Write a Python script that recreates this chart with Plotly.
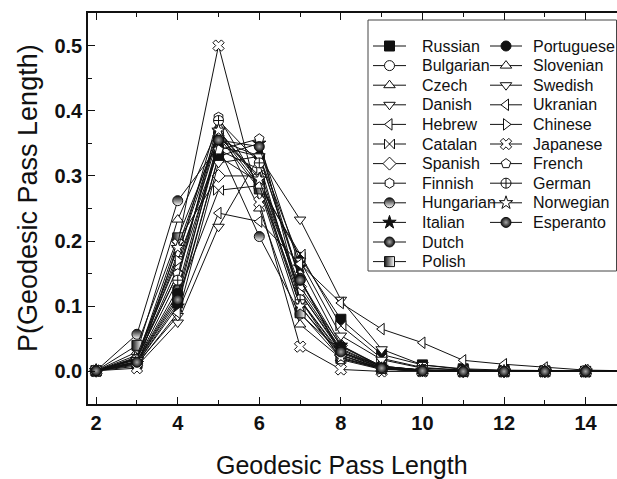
import plotly.graph_objects as go

# Geodesic path length (x) and the probability of each length per language
path_length = [2, 3, 4, 5, 6, 7, 8, 9, 10, 11, 12, 13, 14, 15]

russian    = [0.001, 0.012, 0.105, 0.330, 0.290, 0.175, 0.080, 0.026, 0.010, 0.004, 0.002, 0.001, 0.000, 0.000]
portuguese = [0.001, 0.015, 0.120, 0.345, 0.330, 0.140, 0.038, 0.008, 0.002, 0.001, 0.000, 0.000, 0.000, 0.000]
bulgarian  = [0.001, 0.020, 0.150, 0.370, 0.290, 0.125, 0.035, 0.007, 0.002, 0.001, 0.000, 0.000, 0.000, 0.000]
slovenian  = [0.001, 0.025, 0.180, 0.365, 0.285, 0.110, 0.028, 0.005, 0.001, 0.000, 0.000, 0.000, 0.000, 0.000]
czech      = [0.001, 0.030, 0.233, 0.375, 0.250, 0.072, 0.020, 0.004, 0.001, 0.000, 0.000, 0.000, 0.000, 0.000]
swedish    = [0.001, 0.012, 0.085, 0.320, 0.330, 0.170, 0.055, 0.018, 0.005, 0.002, 0.001, 0.000, 0.000, 0.000]
danish     = [0.001, 0.008, 0.075, 0.222, 0.330, 0.233, 0.110, 0.034, 0.010, 0.003, 0.001, 0.000, 0.000, 0.000]
ukranian   = [0.001, 0.010, 0.090, 0.243, 0.230, 0.165, 0.105, 0.065, 0.044, 0.017, 0.011, 0.006, 0.002, 0.001]
hebrew     = [0.001, 0.018, 0.160, 0.360, 0.300, 0.120, 0.033, 0.007, 0.002, 0.001, 0.000, 0.000, 0.000, 0.000]
chinese    = [0.001, 0.022, 0.170, 0.340, 0.310, 0.120, 0.030, 0.006, 0.001, 0.000, 0.000, 0.000, 0.000, 0.000]
catalan    = [0.001, 0.014, 0.115, 0.278, 0.285, 0.180, 0.070, 0.020, 0.006, 0.002, 0.000, 0.000, 0.000, 0.000]
japanese   = [0.001, 0.005, 0.195, 0.500, 0.260, 0.038, 0.003, 0.000, 0.000, 0.000, 0.000, 0.000, 0.000, 0.000]
spanish    = [0.001, 0.020, 0.200, 0.300, 0.300, 0.130, 0.040, 0.008, 0.002, 0.000, 0.000, 0.000, 0.000, 0.000]
french     = [0.001, 0.020, 0.150, 0.340, 0.357, 0.110, 0.018, 0.003, 0.001, 0.000, 0.000, 0.000, 0.000, 0.000]
finnish    = [0.001, 0.020, 0.175, 0.390, 0.285, 0.100, 0.025, 0.004, 0.001, 0.000, 0.000, 0.000, 0.000, 0.000]
german     = [0.001, 0.015, 0.140, 0.385, 0.320, 0.110, 0.025, 0.004, 0.001, 0.000, 0.000, 0.000, 0.000, 0.000]
hungarian  = [0.001, 0.057, 0.262, 0.345, 0.207, 0.088, 0.030, 0.008, 0.002, 0.000, 0.000, 0.000, 0.000, 0.000]
norwegian  = [0.001, 0.018, 0.190, 0.370, 0.295, 0.100, 0.022, 0.004, 0.001, 0.000, 0.000, 0.000, 0.000, 0.000]
italian    = [0.001, 0.012, 0.100, 0.330, 0.350, 0.160, 0.040, 0.006, 0.001, 0.000, 0.000, 0.000, 0.000, 0.000]
esperanto  = [0.001, 0.014, 0.110, 0.355, 0.345, 0.140, 0.030, 0.005, 0.001, 0.000, 0.000, 0.000, 0.000, 0.000]
dutch      = [0.001, 0.015, 0.127, 0.355, 0.330, 0.143, 0.025, 0.004, 0.001, 0.000, 0.000, 0.000, 0.000, 0.000]
polish     = [0.001, 0.040, 0.205, 0.360, 0.280, 0.090, 0.020, 0.004, 0.001, 0.000, 0.000, 0.000, 0.000, 0.000]

# Legend columns (names as printed in the key)
legend_left = ["Russian", "Bulgarian", "Czech", "Danish", "Hebrew", "Catalan",
               "Spanish", "Finnish", "Hungarian", "Italian", "Dutch", "Polish"]
legend_right = ["Portuguese", "Slovenian", "Swedish", "Ukranian", "Chinese",
                "Japanese", "French", "German", "Norwegian", "Esperanto"]

x_title = "Geodesic Pass Length"
y_title = "P(Geodesic Pass Length)"

series = {
    "Russian": russian, "Portuguese": portuguese, "Bulgarian": bulgarian,
    "Slovenian": slovenian, "Czech": czech, "Swedish": swedish, "Danish": danish,
    "Ukranian": ukranian, "Hebrew": hebrew, "Chinese": chinese, "Catalan": catalan,
    "Japanese": japanese, "Spanish": spanish, "French": french, "Finnish": finnish,
    "German": german, "Hungarian": hungarian, "Norwegian": norwegian,
    "Italian": italian, "Esperanto": esperanto, "Dutch": dutch, "Polish": polish,
}

BLACK = "#111111"
WHITE = "#ffffff"
FONT = "Arial, Liberation Sans, sans-serif"

# marker style per language: (symbol, fill colour, gradient)
styles = {
    "Russian":    ("square", BLACK, None),
    "Portuguese": ("circle", BLACK, None),
    "Bulgarian":  ("circle", WHITE, None),
    "Slovenian":  ("triangle-up", WHITE, None),
    "Czech":      ("triangle-up", WHITE, None),
    "Swedish":    ("triangle-down", WHITE, None),
    "Danish":     ("triangle-down", WHITE, None),
    "Ukranian":   ("triangle-left", WHITE, None),
    "Hebrew":     ("triangle-left", WHITE, None),
    "Chinese":    ("triangle-right", WHITE, None),
    "Catalan":    ("bowtie", WHITE, None),
    "Japanese":   ("x", WHITE, None),
    "Spanish":    ("diamond", WHITE, None),
    "French":     ("pentagon", WHITE, None),
    "Finnish":    ("hexagon", WHITE, None),
    "German":     ("circle-cross", WHITE, None),
    "Hungarian":  ("circle", BLACK, dict(type="vertical", color=WHITE)),
    "Norwegian":  ("star", WHITE, None),
    "Italian":    ("star", BLACK, None),
    "Esperanto":  ("circle", BLACK, dict(type="radial", color="#a8a8a8")),
    "Dutch":      ("circle", BLACK, dict(type="radial", color="#a8a8a8")),
    "Polish":     ("square", BLACK, dict(type="horizontal", color=WHITE)),
}

MARKER_SIZE = 10


def marker_for(name, opacity=None):
    sym, fill, grad = styles[name]
    m = dict(symbol=sym, size=MARKER_SIZE, color=fill,
             line=dict(color=BLACK, width=1))
    if grad is not None:
        m["gradient"] = grad
    if opacity is not None:
        m["opacity"] = opacity
    return m


fig = go.Figure()

order = legend_left + legend_right
for name in order:
    fig.add_trace(go.Scatter(
        x=path_length, y=series[name], mode="lines+markers", name=name,
        line=dict(color=BLACK, width=1), marker=marker_for(name),
        showlegend=False,
    ))

# ---- key drawn on an overlay axis measured in figure pixels ----
W, H = 617, 479
ML, MT, MB = 88, 13, 75
PW, PH = W - ML, H - MT - MB
box = dict(x0=368, x1=616.5, y0=20, y1=271)
row0, row_step = 46, 19.6
cols = [(legend_left, 373, 406, 420), (legend_right, 490, 522, 531)]

for names, xa, xb, xt in cols:
    for i, name in enumerate(names):
        yr = row0 + i * row_step
        fig.add_trace(go.Scatter(
            x=[xa, (xa + xb) / 2, xb], y=[yr, yr, yr],
            mode="lines+markers", xaxis="x2", yaxis="y2",
            line=dict(color=BLACK, width=1),
            marker=marker_for(name, opacity=[0, 1, 0]),
            showlegend=False, hoverinfo="skip",
        ))
        fig.add_annotation(
            x=xt, y=yr, xref="x2", yref="y2", text=name, showarrow=False,
            xanchor="left", yanchor="middle",
            font=dict(family=FONT, size=16, color=BLACK),
        )

fig.add_shape(type="rect", xref="x2", yref="y2", layer="below",
              line=dict(color="#444444", width=1), fillcolor=WHITE, **box)


def paper_x(px):
    return (px - ML) / PW


def paper_y(py):
    return 1 - (py - MT) / PH


# axis titles
fig.add_annotation(x=paper_x(342), y=paper_y(465), xref="paper", yref="paper",
                   text=x_title, showarrow=False, xanchor="center", yanchor="middle",
                   font=dict(family=FONT, size=25, color=BLACK))
fig.add_annotation(x=paper_x(28), y=paper_y(198), xref="paper", yref="paper",
                   text=y_title, showarrow=False, xanchor="center", yanchor="middle",
                   textangle=-90, font=dict(family=FONT, size=27, color=BLACK))

tickfont = dict(family=FONT, size=20, color=BLACK, weight="bold")

fig.update_layout(
    width=W, height=H,
    margin=dict(l=ML, r=0, t=MT, b=MB, pad=0),
    paper_bgcolor=WHITE, plot_bgcolor=WHITE,
    showlegend=False,
    xaxis=dict(
        range=[1.8, 14.77], tickvals=[2, 4, 6, 8, 10, 12, 14],
        ticks="inside", ticklen=7, tickwidth=1.2, tickcolor=BLACK,
        minor=dict(ticks="inside", ticklen=4, dtick=1, tick0=0, tickcolor=BLACK, tickwidth=1.2),
        showline=True, linecolor=BLACK, linewidth=1.5, mirror="ticks",
        showgrid=False, zeroline=False, tickfont=tickfont,
    ),
    yaxis=dict(
        range=[-0.05, 0.55], tickvals=[0.0, 0.1, 0.2, 0.3, 0.4, 0.5],
        tickformat=".1f",
        ticks="inside", ticklen=7, tickwidth=1.2, tickcolor=BLACK,
        minor=dict(ticks="inside", ticklen=4, dtick=0.05, tick0=0, tickcolor=BLACK, tickwidth=1.2),
        showline=True, linecolor=BLACK, linewidth=1.5, mirror=False,
        showgrid=False, zeroline=False, tickfont=tickfont,
    ),
    xaxis2=dict(overlaying="x", range=[ML, W], visible=False, fixedrange=True),
    yaxis2=dict(overlaying="y", range=[H - MB, MT], visible=False, fixedrange=True),
)

fig.write_html("out.html")
